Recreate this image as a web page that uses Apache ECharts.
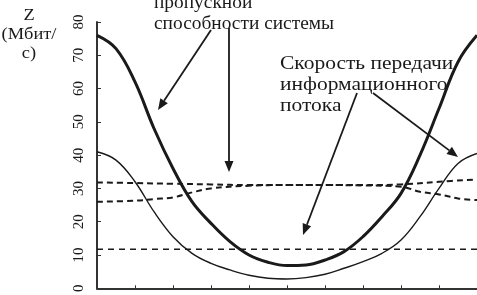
<!DOCTYPE html>
<html>
<head>
<meta charset="utf-8">
<script src="https://cdn.jsdelivr.net/npm/echarts@6/dist/echarts.min.js"></script>
<style>html,body{margin:0;padding:0;background:#fff}#c{width:477px;height:295px}</style>
</head>
<body>
<div id="c"></div>
<script>
// ---- data ----
var curveX = [0,0.5,1,1.5,2,2.5,3,3.5,4,4.5,5,5.5,6,6.5,7,7.5,8,8.5,9,9.5,10];
var thickValues = [76,72,62,48,36,26,19.5,14,10,7.8,6.8,7,8.5,11,15.5,21.5,28.5,40,54,68,76];
var thinValues  = [41,38.5,32,23,15.5,10.5,7.5,5.5,3.9,3,2.8,3.2,4.2,6,8,10.5,14.5,21.5,30,37.5,40.5];
var dash1X = [0,1,2,3,4,5,6,7,8,9,10];
var dash1Values = [31.8,31.6,31.4,31.2,31,31,31,31,31.2,32,32.7];
var dash2X = [0,1,1.5,2,2.5,3,4,5,6,7,8,8.5,9,9.5,10];
var dash2Values = [26,26.3,26.8,27.3,28.8,30,30.8,31,31,30.9,30.5,29,28.2,27,26.5];
var dash3X = [0,10];
var dash3Values = [11.7,11.7];
var yTicks = {min:0, max:80, step:10};
var xTicks = {min:0, max:10, step:1};

function pairs(xs, ys){ return xs.map(function(x,i){return [x, ys[i]];}); }

var SERIF = 'Liberation Serif';
var INK = '#1a1a1a';

var chart = echarts.init(document.getElementById('c'), null, {renderer:'canvas'});

function arrow(x1,y1,x2,y2){
  var dx=x2-x1, dy=y2-y1, L=Math.sqrt(dx*dx+dy*dy), ux=dx/L, uy=dy/L;
  var hl=11, hw=4.5;
  var bx=x2-ux*hl, by=y2-uy*hl;
  return [
    {type:'line', shape:{x1:x1,y1:y1,x2:bx,y2:by}, style:{stroke:INK, lineWidth:1.8}, z:100},
    {type:'polygon', shape:{points:[[x2,y2],[bx-uy*hw,by+ux*hw],[bx+uy*hw,by-ux*hw]]}, style:{fill:INK}, z:100}
  ];
}

var graphics = [].concat(
  arrow(211,30,158,110),
  arrow(229,28,229,172),
  arrow(357,93,303,235),
  arrow(373,93,458,157),
  [
    {type:'text', x:154, y:-7, scaleX:1.02, style:{text:'пропускной\nспособности системы', fontFamily:SERIF, fontSize:19, fill:INK, lineHeight:21, verticalAlign:'top', align:'left'}, z:100},
    {type:'text', x:280, y:54, scaleX:1.13, style:{text:'Скорость передачи\nинформационного\nпотока', fontFamily:SERIF, fontSize:19, fill:INK, lineHeight:21, verticalAlign:'top', align:'left'}, z:100},
    {type:'text', x:29, y:6, scaleX:1.15, style:{text:'Z\n(Мбит/\nс)', fontFamily:SERIF, fontSize:16, fill:INK, lineHeight:19, align:'center', verticalAlign:'top'}, z:100}
  ]
);

var option = {
  animation:false,
  backgroundColor:'#fff',
  grid:{left:97, right:0, top:22, bottom:6, containLabel:false},
  xAxis:{type:'value', min:xTicks.min, max:xTicks.max, interval:xTicks.step,
    axisLine:{show:true, onZero:false, lineStyle:{color:'#333', width:2}},
    axisTick:{show:true, inside:true, length:3, lineStyle:{color:'#333', width:1}},
    axisLabel:{show:false}, splitLine:{show:false}},
  yAxis:{type:'value', min:yTicks.min, max:yTicks.max, interval:yTicks.step,
    axisLine:{show:true, lineStyle:{color:'#333', width:2}},
    axisTick:{show:true, inside:true, length:4, lineStyle:{color:'#333', width:1}},
    axisLabel:{show:true, rotate:90, margin:10, color:INK, fontFamily:SERIF, fontSize:15},
    splitLine:{show:false}},
  series:[
    {type:'line', data:pairs(curveX, thickValues), smooth:0.4, symbol:'none', lineStyle:{color:INK, width:3}},
    {type:'line', data:pairs(curveX, thinValues), smooth:0.4, symbol:'none', lineStyle:{color:INK, width:1.4}},
    {type:'line', data:pairs(dash1X, dash1Values), smooth:0.4, symbol:'none', lineStyle:{color:INK, width:2, type:[6,4]}},
    {type:'line', data:pairs(dash2X, dash2Values), smooth:0.4, symbol:'none', lineStyle:{color:INK, width:2, type:[6,4]}},
    {type:'line', data:pairs(dash3X, dash3Values), symbol:'none', lineStyle:{color:INK, width:1.6, type:[6,5]}}
  ],
  graphic:graphics
};
chart.setOption(option);
</script>
</body>
</html>
